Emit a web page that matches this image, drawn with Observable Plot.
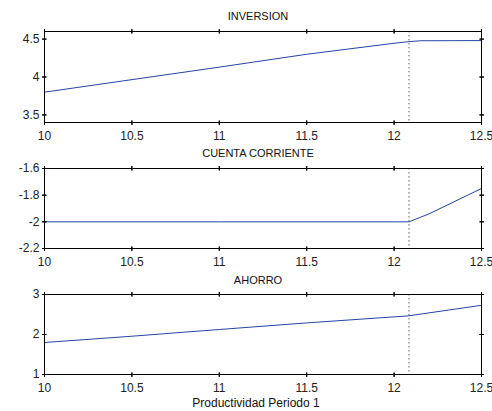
<!DOCTYPE html>
<html><head><meta charset="utf-8">
<script src="https://cdn.jsdelivr.net/npm/d3@7"></script>
<script src="https://cdn.jsdelivr.net/npm/@observablehq/plot@0.6"></script>
<style>
body{margin:0;background:#fff}
#c{position:relative;width:492px;height:411px;background:#fff}
#c svg{position:absolute;left:0}
</style>
</head><body><div id="c"></div>
<script>
// ---- data ----
const xTicks = [10, 10.5, 11, 11.5, 12, 12.5];
const kinkX = [12.085];

const inversionX = [10, 10.5, 11, 11.5, 12, 12.08, 12.15, 12.5];
const inversionY = [3.80, 3.965, 4.13, 4.30, 4.445, 4.465, 4.478, 4.48];
const inversionTicks = [3.5, 4, 4.5];

const cuentaX = [10, 11, 12, 12.085, 12.2, 12.5];
const cuentaY = [-2, -2, -2, -2, -1.94, -1.75];
const cuentaTicks = [-2.2, -2, -1.8, -1.6];

const ahorroX = [10, 10.5, 11, 11.5, 12.08, 12.5];
const ahorroY = [1.8, 1.957, 2.125, 2.29, 2.465, 2.73];
const ahorroTicks = [1, 2, 3];

const titles = ["INVERSION", "CUENTA CORRIENTE", "AHORRO"];
const xLabel = "Productividad Periodo 1";

const lineColor = "#2444a8";
const fmt = d => String(d);

function panel({title, xs, ys, yDomain, yTicks, top, height, mt, mb, titleDy, xlabel}) {
  const data = xs.map((x, i) => ({x, y: ys[i]}));
  const tk = {length: 4, shape: "spike", r: 0, stroke: "#000", strokeWidth: 1};
  const marks = [
    Plot.ruleX(kinkX, {stroke: "#666", strokeDasharray: "1.5,2.5", strokeWidth: 1}),
    Plot.line(data, {x: "x", y: "y", stroke: lineColor, strokeWidth: 1}),
    // inward tick marks on all four sides
    Plot.vector(xTicks, {x: d => d, y: () => yDomain[0], rotate: 0, ...tk}),
    Plot.vector(xTicks, {x: d => d, y: () => yDomain[1], rotate: 180, ...tk}),
    Plot.vector(yTicks, {y: d => d, x: () => 10, rotate: 90, ...tk}),
    Plot.vector(yTicks, {y: d => d, x: () => 12.5, rotate: -90, ...tk}),
    Plot.frame({stroke: "#000", strokeWidth: 1}),
    Plot.axisX(xTicks, {anchor: "bottom", label: null, tickSize: 0, tickPadding: 9, tickFormat: fmt, fontSize: 12}),
    Plot.axisY(yTicks, {anchor: "left", label: null, tickSize: 0, tickPadding: 5, tickFormat: fmt, fontSize: 12}),
    Plot.text([title], {frameAnchor: "top", lineAnchor: "middle", dy: titleDy, dx: -5, fontSize: 11, fill: "#111"})
  ];
  if (xlabel) marks.push(Plot.text([xlabel], {frameAnchor: "bottom", lineAnchor: "middle", dy: 29, dx: -7, fontSize: 12, fill: "#111"}));
  const svg = Plot.plot({
    width: 492, height,
    marginLeft: 44, marginRight: 11, marginTop: mt, marginBottom: mb,
    x: {domain: [10, 12.5], label: null, axis: null},
    y: {domain: yDomain, label: null, axis: null},
    style: {fontFamily: "'Liberation Sans', Arial, sans-serif", fontSize: "12px", color: "#222", background: "transparent", overflow: "visible"},
    marks
  });
  svg.style.top = top + "px";
  return svg;
}

const c = document.getElementById("c");
c.appendChild(panel({title: titles[0], xs: inversionX, ys: inversionY, yDomain: [3.4, 4.6], yTicks: inversionTicks, top: 0, height: 140, mt: 31, mb: 18, titleDy: -15}));
c.appendChild(panel({title: titles[1], xs: cuentaX, ys: cuentaY, yDomain: [-2.2, -1.6], yTicks: cuentaTicks, top: 140, height: 130, mt: 28, mb: 22, titleDy: -15}));
c.appendChild(panel({title: titles[2], xs: ahorroX, ys: ahorroY, yDomain: [1, 3], yTicks: ahorroTicks, top: 270, height: 141, mt: 24, mb: 37, titleDy: -14, xlabel: xLabel}));
</script>
</body></html>
